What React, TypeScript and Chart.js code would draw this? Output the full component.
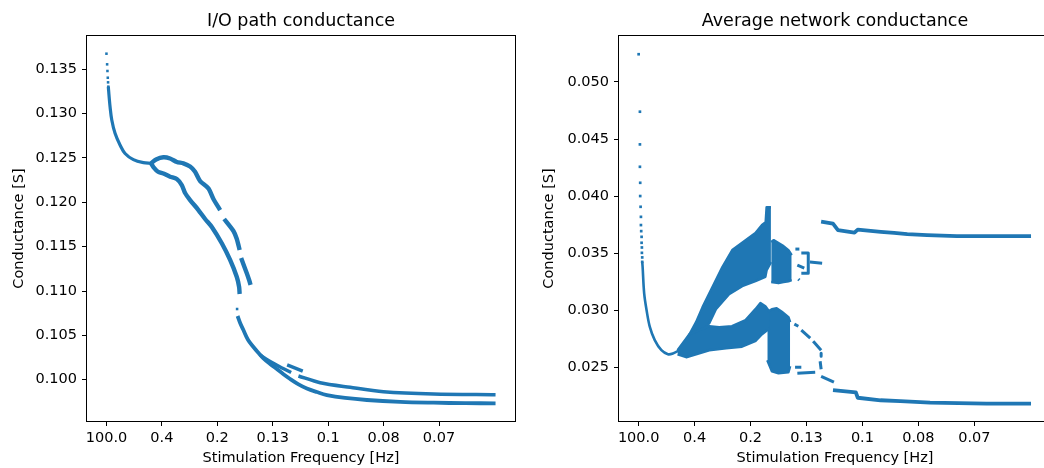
import { useEffect, useRef } from 'react';
import { Chart, registerables } from 'chart.js';

Chart.register(...registerables);

type Pt = [number, number];

const BLUE = '#1f77b4';
const FONT = 'DejaVu Sans';

// x axis: sample position measured in tick spacings, labelled with the stimulation frequency
const xTickValues = [0, 1, 2, 3, 4, 5, 6];
const xTickLabels = ['100.0', '0.4', '0.2', '0.13', '0.1', '0.08', '0.07'];
const xMin = -0.351;
const xMax = 7.371;

const yTicksPath = [0.1, 0.105, 0.11, 0.115, 0.12, 0.125, 0.13, 0.135];
const yTicksNet = [0.025, 0.03, 0.035, 0.04, 0.045, 0.05];

// ---------- I/O path conductance ----------
const pathStartDots: Pt[] = [
  [0, 0.13676], [0.012, 0.13556], [0.018, 0.13481], [0.024, 0.13405], [0.029, 0.13353], [0.034, 0.13304],
];
const pathTrunk: Pt[] = [
  [0.034, 0.13304], [0.038, 0.13267], [0.065, 0.13078], [0.096, 0.12928], [0.155, 0.12778],
  [0.245, 0.12646], [0.336, 0.12551], [0.486, 0.12481], [0.666, 0.12447], [0.805, 0.1244],
];
const pathUpperA: Pt[] = [
  [0.805, 0.1244], [0.895, 0.12483], [1.027, 0.12508], [1.148, 0.12494], [1.269, 0.12455],
  [1.388, 0.1244], [1.509, 0.12404], [1.599, 0.12345], [1.69, 0.1224], [1.839, 0.12158],
  [1.93, 0.12038], [2.051, 0.11913],
];
const pathUpperB: Pt[] = [[2.123, 0.11812], [2.291, 0.11677], [2.352, 0.11586], [2.403, 0.11462]];
const pathUpperC: Pt[] = [[2.43, 0.11372], [2.532, 0.112], [2.574, 0.11124], [2.601, 0.11068]];
const pathLower: Pt[] = [
  [0.805, 0.1244], [0.847, 0.12398], [0.931, 0.12345], [1.027, 0.12325], [1.148, 0.12289],
  [1.269, 0.12263], [1.359, 0.12195], [1.419, 0.12105], [1.509, 0.12026], [1.659, 0.11913],
  [1.78, 0.11812], [1.901, 0.11722], [2.081, 0.11538], [2.231, 0.1135], [2.352, 0.11158],
  [2.394, 0.11045], [2.403, 0.10966],
];
const pathLoneDots: Pt[] = [[2.357, 0.10797]];
const pathMain: Pt[] = [
  [2.366, 0.10718], [2.412, 0.10639], [2.471, 0.1056], [2.556, 0.10448], [2.652, 0.10369],
  [2.736, 0.10307], [2.832, 0.10241], [2.953, 0.10177], [3.074, 0.10121], [3.188, 0.10064],
  [3.314, 0.10008], [3.458, 0.09951], [3.616, 0.09901], [3.796, 0.09861], [3.977, 0.09827],
  [4.307, 0.09794], [4.699, 0.09771], [5.3, 0.09751], [5.901, 0.09741], [6.473, 0.09735], [7.02, 0.09734],
];
const pathTailA: Pt[] = [[2.773, 0.10278], [2.953, 0.10205], [3.134, 0.10143], [3.332, 0.10081]];
const pathTailB: Pt[] = [
  [3.464, 0.10042], [3.856, 0.09966], [4.397, 0.09914], [4.998, 0.09865], [5.901, 0.09839], [7.02, 0.09831],
];
const pathDetached: Pt[] = [[3.26, 0.10166], [3.542, 0.10098]];

// ---------- Average network conductance ----------
const netStartDots: Pt[] = [
  [0, 0.05243], [0.023, 0.0474], [0.023, 0.04454], [0.023, 0.04258], [0.028, 0.04118], [0.028, 0.04002],
  [0.035, 0.03908], [0.041, 0.0382], [0.041, 0.03748], [0.046, 0.03695], [0.053, 0.03645], [0.053, 0.03593],
  [0.058, 0.03552], [0.058, 0.03505], [0.064, 0.03465], [0.064, 0.03426],
];
const netTrunk: Pt[] = [
  [0.064, 0.03426], [0.071, 0.03383], [0.099, 0.0315], [0.142, 0.03003], [0.2, 0.02857],
  [0.288, 0.02741], [0.407, 0.02653], [0.524, 0.02618], [0.612, 0.02624], [0.731, 0.02653],
];
const netLowCloudTop: Pt[] = [
  [0.696, 0.02653], [0.908, 0.02793], [1.085, 0.02828], [1.262, 0.02863], [1.439, 0.02855],
  [1.669, 0.02863], [1.912, 0.02916], [2.088, 0.03012], [2.177, 0.03065], [2.265, 0.03038], [2.342, 0.02986],
];
const netLowCloudBottom: Pt[] = [
  [0.696, 0.02618], [0.85, 0.02592], [1.027, 0.02618], [1.262, 0.02653], [1.563, 0.02671],
  [1.846, 0.02684], [2.094, 0.02736], [2.205, 0.02793], [2.342, 0.02846],
];
const netHighCloudTop: Pt[] = [
  [0.873, 0.02758], [1.027, 0.02898], [1.143, 0.0303], [1.32, 0.03205], [1.497, 0.0338],
  [1.674, 0.03529], [1.912, 0.03616], [2.088, 0.03678], [2.205, 0.03748], [2.271, 0.03774],
  [2.288, 0.03905], [2.365, 0.03905],
];
const netHighCloudBottom: Pt[] = [
  [0.873, 0.02741], [1.085, 0.02793], [1.262, 0.0289], [1.381, 0.03012], [1.616, 0.03143],
  [1.851, 0.03214], [2.088, 0.03257], [2.265, 0.03295], [2.288, 0.03354], [2.365, 0.03424],
];
const netHighClusterTop: Pt[] = [
  [2.37, 0.036], [2.412, 0.03616], [2.5, 0.0359], [2.589, 0.03564], [2.678, 0.03529], [2.736, 0.03485],
];
const netHighClusterBottom: Pt[] = [
  [2.37, 0.03249], [2.5, 0.0324], [2.589, 0.03249], [2.678, 0.03257], [2.736, 0.03266],
];
const netLowClusterTop: Pt[] = [
  [2.3, 0.02986], [2.382, 0.03012], [2.466, 0.03021], [2.559, 0.02989], [2.678, 0.02942], [2.708, 0.02898],
];
const netLowClusterBottom: Pt[] = [
  [2.3, 0.02566], [2.382, 0.02469], [2.5, 0.02452], [2.678, 0.0246], [2.708, 0.02513],
];
const netHighScatter: Pt[][] = [
  [[2.802, 0.03538], [2.873, 0.03538]],
  [[2.908, 0.03503], [3.032, 0.03503], [3.032, 0.03327], [2.908, 0.03327]],
  [[3.062, 0.03424], [3.28, 0.03415]],
  [[2.837, 0.03397], [2.961, 0.03371]],
  [[2.855, 0.03275], [2.873, 0.03266]],
];
const netLowScatter: Pt[][] = [
  [[2.784, 0.02881], [2.855, 0.02863]],
  [[2.908, 0.02828], [3.067, 0.02758]],
  [[3.12, 0.02732], [3.262, 0.02653]],
  [[3.262, 0.02627], [3.262, 0.02601]],
  [[2.796, 0.02504], [2.908, 0.02504]],
  [[2.837, 0.02452], [3.156, 0.0246]],
  [[3.244, 0.02556], [3.262, 0.02487]],
  [[3.262, 0.02425], [3.491, 0.02373]],
];
const netUpperTail: Pt[] = [
  [3.262, 0.03778], [3.474, 0.03761], [3.563, 0.03704], [3.858, 0.03682], [3.917, 0.03708],
  [4.329, 0.03689], [4.566, 0.0368], [4.802, 0.03669], [5.156, 0.0366], [5.688, 0.03651], [7.014, 0.03651],
];
const netLowerTail: Pt[] = [
  [3.474, 0.02303], [3.881, 0.02285], [3.917, 0.02237], [4.324, 0.02215], [4.678, 0.02207],
  [5.209, 0.02195], [6.218, 0.02186], [7.014, 0.02185],
];

const toXY = (pts: Pt[]) => pts.map(([x, y]) => ({ x, y }));

function stroke(pts: Pt[], width: number, tension = 0, fill: any = false) {
  return {
    data: toXY(pts),
    borderColor: BLUE,
    backgroundColor: BLUE,
    borderWidth: width,
    borderJoinStyle: 'round',
    borderCapStyle: 'butt',
    pointRadius: 0,
    tension,
    fill,
  };
}

function dots(pts: Pt[], radius: number) {
  return {
    data: toXY(pts),
    showLine: false,
    pointStyle: 'rect',
    pointRadius: radius,
    pointBorderWidth: 0,
    pointBackgroundColor: BLUE,
    borderColor: BLUE,
    fill: false,
  };
}

// a filled region between an upper and a lower boundary
function band(top: Pt[], bottom: Pt[]) {
  return [stroke(top, 2.5), stroke(bottom, 2.5, 0, '-1')];
}

const framePlugin = {
  id: 'frame',
  afterDatasetsDraw(chart: any) {
    const { ctx, chartArea } = chart;
    const { left, right, top, bottom } = chartArea;
    ctx.save();
    ctx.strokeStyle = '#000';
    ctx.lineWidth = 1;
    ctx.strokeRect(Math.round(left) - 0.5, Math.round(top) - 0.5, Math.round(right - left) + 1, Math.round(bottom - top) + 1);
    ctx.restore();
  },
};

function buildConfig(title: string, datasets: any[], yTicks: number[], yMin: number, yMax: number, yWidth: number, padRight: number) {
  const tickFont = { family: FONT, size: 14.5 };
  return {
    type: 'line',
    data: { datasets },
    plugins: [framePlugin],
    options: {
      animation: false,
      responsive: false,
      events: [],
      layout: { padding: { left: 0, right: padRight, top: 0, bottom: 0 } },
      plugins: {
        legend: { display: false },
        tooltip: { enabled: false },
        title: {
          display: true,
          text: title,
          fullSize: false,
          color: '#000',
          font: { family: FONT, size: 17.5, weight: 'normal', lineHeight: 1.2 },
          padding: { top: 11, bottom: 4 },
        },
      },
      scales: {
        x: {
          type: 'linear',
          min: xMin,
          max: xMax,
          afterBuildTicks: (s: any) => {
            s.ticks = xTickValues.map((v) => ({ value: v }));
          },
          afterFit: (s: any) => {
            s.height = 47;
          },
          ticks: {
            autoSkip: false,
            maxRotation: 0,
            padding: 4,
            color: '#000',
            font: tickFont,
            callback: (_v: any, i: number) => xTickLabels[i],
          },
          grid: { drawOnChartArea: false, drawTicks: true, tickLength: 5, color: '#000', lineWidth: 1 },
          border: { display: false },
          title: {
            display: true,
            text: 'Stimulation Frequency [Hz]',
            color: '#000',
            font: { family: FONT, size: 14.5, lineHeight: 1.2 },
            padding: { top: 0, bottom: 1 },
          },
        },
        y: {
          type: 'linear',
          min: yMin,
          max: yMax,
          afterBuildTicks: (s: any) => {
            s.ticks = yTicks.map((v) => ({ value: v }));
          },
          afterFit: (s: any) => {
            s.width = yWidth;
          },
          ticks: {
            autoSkip: false,
            padding: 5,
            color: '#000',
            font: tickFont,
            callback: (v: any) => Number(v).toFixed(3),
          },
          grid: { drawOnChartArea: false, drawTicks: true, tickLength: 5, color: '#000', lineWidth: 1 },
          border: { display: false },
          title: {
            display: true,
            text: 'Conductance [S]',
            color: '#000',
            font: { family: FONT, size: 14.5, lineHeight: 1.2 },
            padding: { top: 11, bottom: 0 },
          },
        },
      },
    },
  };
}

function pathDatasets() {
  return [
    dots(pathStartDots, 1.8),
    stroke(pathTrunk, 3.2, 0.35),
    stroke(pathUpperA, 4.4, 0.25),
    stroke(pathUpperB, 4.4, 0.2),
    stroke(pathUpperC, 4.4, 0.2),
    stroke(pathLower, 4.4, 0.25),
    dots(pathLoneDots, 1.8),
    stroke(pathMain, 3.8, 0.35),
    stroke(pathTailA, 3.5, 0.3),
    stroke(pathTailB, 3.5, 0.3),
    stroke(pathDetached, 3.5),
  ];
}

function netDatasets() {
  return [
    dots(netStartDots, 1.9),
    stroke(netTrunk, 2.6, 0.35),
    ...band(netLowCloudTop, netLowCloudBottom),
    ...band(netHighCloudTop, netHighCloudBottom),
    ...band(netHighClusterTop, netHighClusterBottom),
    ...band(netLowClusterTop, netLowClusterBottom),
    ...netHighScatter.map((s) => stroke(s, 3)),
    ...netLowScatter.map((s) => stroke(s, 3)),
    stroke(netUpperTail, 3.8),
    stroke(netLowerTail, 3.8),
  ];
}

function Panel(props: { left: number; width: number; make: () => any }) {
  const ref = useRef<HTMLCanvasElement | null>(null);
  useEffect(() => {
    if (!ref.current) return;
    const chart = new Chart(ref.current, props.make());
    return () => chart.destroy();
  }, []);
  return (
    <div style={{ position: 'absolute', left: props.left, top: 0, width: props.width, height: 468 }}>
      <canvas ref={ref} width={props.width} height={468} style={{ width: props.width, height: 468, display: 'block' }} />
    </div>
  );
}

export default function App() {
  return (
    <div
      style={{
        position: 'absolute',
        left: 0,
        top: 0,
        width: 1044,
        height: 468,
        overflow: 'hidden',
        background: '#fff',
      }}
    >
      <Panel
        left={0}
        width={530}
        make={() => buildConfig('I/O path conductance', pathDatasets(), yTicksPath, 0.095343, 0.138755, 87, 15)}
      />
      <Panel
        left={530}
        width={525}
        make={() => buildConfig('Average network conductance', netDatasets(), yTicksNet, 0.020336, 0.054025, 89, 0)}
      />
    </div>
  );
}
